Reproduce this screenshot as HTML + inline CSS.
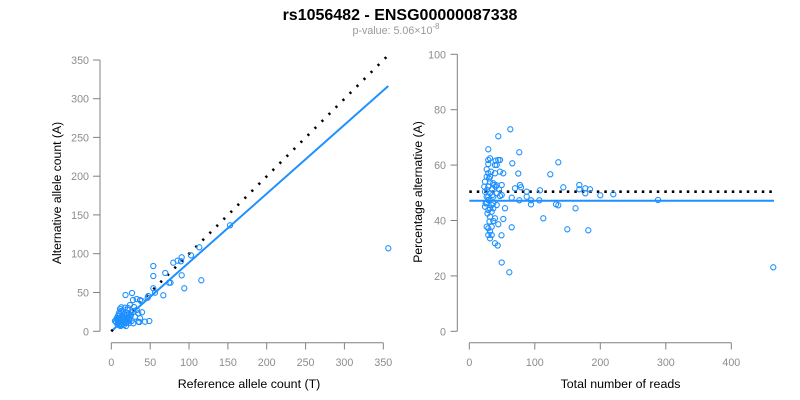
<!DOCTYPE html>
<html><head><meta charset="utf-8"><style>
html,body{margin:0;padding:0;background:#fff;}
svg{display:block;}
text{font-family:"Liberation Sans",Arial,sans-serif;}
</style></head><body>
<svg width="800" height="400" viewBox="0 0 800 400" xmlns="http://www.w3.org/2000/svg">
<rect width="800" height="400" fill="#fff"/>
<text x="400" y="20" text-anchor="middle" font-size="16" font-weight="bold" fill="#000">rs1056482 - ENSG00000087338</text>
<text x="396" y="34" text-anchor="middle" font-size="10.7" fill="#999">p-value: 5.06×10<tspan dy="-5" font-size="8">-8</tspan></text>

<!-- LEFT PLOT axes -->
<g stroke="#808080" stroke-width="1" fill="none">
<line x1="100" y1="60" x2="100" y2="331.3"/>
<line x1="93" y1="60" x2="100" y2="60"/>
<line x1="93" y1="98.7" x2="100" y2="98.7"/>
<line x1="93" y1="137.4" x2="100" y2="137.4"/>
<line x1="93" y1="176.2" x2="100" y2="176.2"/>
<line x1="93" y1="214.9" x2="100" y2="214.9"/>
<line x1="93" y1="253.7" x2="100" y2="253.7"/>
<line x1="93" y1="292.5" x2="100" y2="292.5"/>
<line x1="93" y1="331.3" x2="100" y2="331.3"/>
<line x1="111.3" y1="342.7" x2="383.3" y2="342.7"/>
<line x1="111.3" y1="342.7" x2="111.3" y2="349.5"/>
<line x1="150.2" y1="342.7" x2="150.2" y2="349.5"/>
<line x1="189" y1="342.7" x2="189" y2="349.5"/>
<line x1="227.9" y1="342.7" x2="227.9" y2="349.5"/>
<line x1="266.7" y1="342.7" x2="266.7" y2="349.5"/>
<line x1="305.6" y1="342.7" x2="305.6" y2="349.5"/>
<line x1="344.4" y1="342.7" x2="344.4" y2="349.5"/>
<line x1="383.3" y1="342.7" x2="383.3" y2="349.5"/>
</g>
<g font-size="10.7" fill="#8c8c8c" text-anchor="end">
<text x="89" y="64">350</text>
<text x="89" y="102.7">300</text>
<text x="89" y="141.4">250</text>
<text x="89" y="180.2">200</text>
<text x="89" y="218.9">150</text>
<text x="89" y="257.7">100</text>
<text x="89" y="296.5">50</text>
<text x="89" y="335.3">0</text>
</g>
<g font-size="10.7" fill="#8c8c8c" text-anchor="middle">
<text x="111.3" y="366">0</text>
<text x="150.2" y="366">50</text>
<text x="189" y="366">100</text>
<text x="227.9" y="366">150</text>
<text x="266.7" y="366">200</text>
<text x="305.6" y="366">250</text>
<text x="344.4" y="366">300</text>
<text x="383.3" y="366">350</text>
</g>
<text x="249" y="388" text-anchor="middle" font-size="12.4" fill="#000">Reference allele count (T)</text>
<text transform="translate(61,193) rotate(-90)" text-anchor="middle" font-size="12.2" fill="#000">Alternative allele count (A)</text>

<!-- left lines -->
<line x1="111.3" y1="331.3" x2="388.3" y2="86" stroke="#1E90FF" stroke-width="2"/>
<line x1="111.3" y1="331.3" x2="386.7" y2="56.7" stroke="#000" stroke-width="2.6" stroke-dasharray="2.2 7.7"/>

<!-- left points -->
<g fill="none" stroke="#1E90FF" stroke-width="1.1">
<circle cx="230" cy="225.3" r="2.6"/><circle cx="388.3" cy="248.3" r="2.6"/><circle cx="199.3" cy="247.3" r="2.6"/>
<circle cx="191" cy="255.3" r="2.6"/><circle cx="181" cy="261.3" r="2.6"/><circle cx="177.7" cy="260.7" r="2.6"/>
<circle cx="173.3" cy="262.7" r="2.6"/><circle cx="181.7" cy="257.3" r="2.6"/><circle cx="153.3" cy="266" r="2.6"/>
<circle cx="153.3" cy="276" r="2.6"/><circle cx="165.3" cy="273" r="2.6"/><circle cx="181.7" cy="275.3" r="2.6"/>
<circle cx="201.3" cy="280.3" r="2.6"/><circle cx="184.3" cy="288.3" r="2.6"/><circle cx="169" cy="282.7" r="2.6"/>
<circle cx="170.5" cy="282.7" r="2.6"/><circle cx="163.3" cy="295.3" r="2.6"/><circle cx="153.3" cy="288.3" r="2.6"/>
<circle cx="155" cy="292.7" r="2.6"/><circle cx="148.3" cy="296" r="2.6"/><circle cx="125.5" cy="295" r="2.6"/>
<circle cx="132" cy="293" r="2.6"/><circle cx="149.3" cy="321" r="2.6"/><circle cx="139.3" cy="322" r="2.6"/>
<circle cx="142" cy="312.3" r="2.6"/><circle cx="121.3" cy="307.3" r="2.6"/><circle cx="136.7" cy="299" r="2.6"/>
<circle cx="140" cy="300" r="2.6"/><circle cx="141.7" cy="301" r="2.6"/><circle cx="133" cy="300" r="2.6"/>
<circle cx="147.7" cy="297.7" r="2.6"/><circle cx="136.7" cy="310" r="2.6"/><circle cx="138.3" cy="313.3" r="2.6"/>
<circle cx="140" cy="318.3" r="2.6"/><circle cx="138.3" cy="321.7" r="2.6"/><circle cx="135" cy="316.7" r="2.6"/>
<circle cx="131.7" cy="321" r="2.6"/><circle cx="133.3" cy="323.3" r="2.6"/><circle cx="145" cy="321.7" r="2.6"/>
<circle cx="125" cy="307.7" r="2.6"/><circle cx="127.7" cy="310" r="2.6"/><circle cx="123.3" cy="311.7" r="2.6"/>
<circle cx="117" cy="320" r="2.6"/><circle cx="118" cy="323" r="2.6"/><circle cx="119" cy="318" r="2.6"/>
<circle cx="120" cy="321" r="2.6"/><circle cx="121" cy="324" r="2.6"/><circle cx="122" cy="316" r="2.6"/>
<circle cx="123" cy="319" r="2.6"/><circle cx="124" cy="322" r="2.6"/><circle cx="125" cy="318" r="2.6"/>
<circle cx="126" cy="315" r="2.6"/><circle cx="127" cy="320" r="2.6"/><circle cx="128" cy="317" r="2.6"/>
<circle cx="129" cy="314" r="2.6"/><circle cx="130" cy="318" r="2.6"/><circle cx="118" cy="316" r="2.6"/>
<circle cx="120" cy="314" r="2.6"/><circle cx="116" cy="322" r="2.6"/><circle cx="122" cy="325" r="2.6"/>
<circle cx="124" cy="325" r="2.6"/><circle cx="126" cy="323" r="2.6"/><circle cx="119" cy="313" r="2.6"/>
<circle cx="121" cy="311" r="2.6"/><circle cx="127" cy="313" r="2.6"/><circle cx="131" cy="315" r="2.6"/>
<circle cx="133" cy="312" r="2.6"/><circle cx="129" cy="323" r="2.6"/><circle cx="117" cy="318" r="2.6"/>
<circle cx="115" cy="321" r="2.6"/><circle cx="124" cy="314" r="2.6"/><circle cx="128" cy="308" r="2.6"/>
<circle cx="130" cy="305" r="2.6"/><circle cx="134" cy="307" r="2.6"/><circle cx="120" cy="309" r="2.6"/>
<circle cx="119" cy="325" r="2.6"/><circle cx="123" cy="322" r="2.6"/><circle cx="126" cy="326" r="2.6"/>
<circle cx="116.5" cy="319" r="2.6"/><circle cx="118.5" cy="321" r="2.6"/><circle cx="120.5" cy="319" r="2.6"/>
<circle cx="122.5" cy="321" r="2.6"/><circle cx="121.5" cy="318" r="2.6"/><circle cx="123.5" cy="317" r="2.6"/>
<circle cx="125.5" cy="320" r="2.6"/><circle cx="124.5" cy="323" r="2.6"/><circle cx="127.5" cy="322" r="2.6"/>
<circle cx="119.5" cy="322.5" r="2.6"/><circle cx="117.5" cy="324.5" r="2.6"/><circle cx="120.5" cy="326" r="2.6"/>
<circle cx="128.5" cy="319.5" r="2.6"/><circle cx="126.5" cy="317.5" r="2.6"/><circle cx="130.5" cy="316" r="2.6"/>
</g>

<!-- RIGHT PLOT axes -->
<g stroke="#808080" stroke-width="1" fill="none">
<line x1="457.3" y1="54.3" x2="457.3" y2="331.3"/>
<line x1="450.5" y1="54.3" x2="457.3" y2="54.3"/>
<line x1="450.5" y1="109.7" x2="457.3" y2="109.7"/>
<line x1="450.5" y1="165.1" x2="457.3" y2="165.1"/>
<line x1="450.5" y1="220.5" x2="457.3" y2="220.5"/>
<line x1="450.5" y1="275.9" x2="457.3" y2="275.9"/>
<line x1="450.5" y1="331.3" x2="457.3" y2="331.3"/>
<line x1="469.3" y1="342.7" x2="731.3" y2="342.7"/>
<line x1="469.3" y1="342.7" x2="469.3" y2="349.5"/>
<line x1="534.8" y1="342.7" x2="534.8" y2="349.5"/>
<line x1="600.3" y1="342.7" x2="600.3" y2="349.5"/>
<line x1="665.8" y1="342.7" x2="665.8" y2="349.5"/>
<line x1="731.3" y1="342.7" x2="731.3" y2="349.5"/>
</g>
<g font-size="10.7" fill="#8c8c8c" text-anchor="end">
<text x="446" y="58.3">100</text>
<text x="446" y="113.7">80</text>
<text x="446" y="169.1">60</text>
<text x="446" y="224.5">40</text>
<text x="446" y="279.9">20</text>
<text x="446" y="335.3">0</text>
</g>
<g font-size="10.7" fill="#8c8c8c" text-anchor="middle">
<text x="469.3" y="366">0</text>
<text x="534.8" y="366">100</text>
<text x="600.3" y="366">200</text>
<text x="665.8" y="366">300</text>
<text x="731.3" y="366">400</text>
</g>
<text x="620.5" y="388" text-anchor="middle" font-size="12.4" fill="#000">Total number of reads</text>
<text transform="translate(422,192) rotate(-90)" text-anchor="middle" font-size="12.2" fill="#000">Percentage alternative (A)</text>

<!-- right lines -->
<line x1="469.3" y1="200.7" x2="774" y2="200.7" stroke="#1E90FF" stroke-width="2"/>
<line x1="469.3" y1="191.7" x2="774" y2="191.7" stroke="#000" stroke-width="2.6" stroke-dasharray="2.5 5"/>

<!-- right points -->
<g fill="none" stroke="#1E90FF" stroke-width="1.1">
<circle cx="510.3" cy="129.3" r="2.6"/><circle cx="498.3" cy="136.3" r="2.6"/><circle cx="488.3" cy="149.3" r="2.6"/>
<circle cx="519.3" cy="152.3" r="2.6"/><circle cx="558.3" cy="162.3" r="2.6"/><circle cx="512.3" cy="163.3" r="2.6"/>
<circle cx="490" cy="158.3" r="2.6"/><circle cx="488.3" cy="160" r="2.6"/><circle cx="488.3" cy="164" r="2.6"/>
<circle cx="495.7" cy="160.7" r="2.6"/><circle cx="498.3" cy="160" r="2.6"/><circle cx="496.7" cy="165" r="2.6"/>
<circle cx="500" cy="160" r="2.6"/><circle cx="495" cy="165" r="2.6"/><circle cx="486.7" cy="169.3" r="2.6"/>
<circle cx="491" cy="171.7" r="2.6"/><circle cx="495" cy="173.3" r="2.6"/><circle cx="500" cy="171.7" r="2.6"/>
<circle cx="503.3" cy="173.3" r="2.6"/><circle cx="488.3" cy="173.3" r="2.6"/><circle cx="490" cy="176.7" r="2.6"/>
<circle cx="486.7" cy="176.7" r="2.6"/><circle cx="518.3" cy="173.5" r="2.6"/><circle cx="550.3" cy="174.3" r="2.6"/>
<circle cx="485" cy="181.7" r="2.6"/><circle cx="490" cy="181.7" r="2.6"/><circle cx="493.3" cy="183.3" r="2.6"/>
<circle cx="488.3" cy="186.7" r="2.6"/><circle cx="484.3" cy="186.7" r="2.6"/><circle cx="495.7" cy="186.7" r="2.6"/>
<circle cx="501.7" cy="185" r="2.6"/><circle cx="499" cy="189.3" r="2.6"/><circle cx="494.3" cy="185" r="2.6"/>
<circle cx="496.7" cy="185.3" r="2.6"/><circle cx="520" cy="185" r="2.6"/><circle cx="521" cy="187.3" r="2.6"/>
<circle cx="515" cy="188.3" r="2.6"/><circle cx="563.3" cy="187.3" r="2.6"/><circle cx="579.3" cy="185" r="2.6"/>
<circle cx="579.3" cy="189.3" r="2.6"/><circle cx="585.3" cy="188.3" r="2.6"/><circle cx="590" cy="189.3" r="2.6"/>
<circle cx="585.3" cy="193.3" r="2.6"/><circle cx="540" cy="190.3" r="2.6"/><circle cx="526.7" cy="191.7" r="2.6"/>
<circle cx="526.7" cy="196.7" r="2.6"/><circle cx="600.3" cy="195.3" r="2.6"/><circle cx="613.3" cy="194.3" r="2.6"/>
<circle cx="658" cy="200" r="2.6"/><circle cx="485" cy="191.7" r="2.6"/><circle cx="490" cy="193.3" r="2.6"/>
<circle cx="492.3" cy="195" r="2.6"/><circle cx="486.7" cy="196.7" r="2.6"/><circle cx="496.7" cy="193.3" r="2.6"/>
<circle cx="501.7" cy="195" r="2.6"/><circle cx="488.3" cy="200" r="2.6"/><circle cx="485.7" cy="203.3" r="2.6"/>
<circle cx="491.7" cy="205" r="2.6"/><circle cx="485" cy="206.7" r="2.6"/><circle cx="490" cy="208.3" r="2.6"/>
<circle cx="505" cy="208.3" r="2.6"/><circle cx="488.3" cy="196.7" r="2.6"/><circle cx="493.3" cy="196.7" r="2.6"/>
<circle cx="500" cy="196" r="2.6"/><circle cx="511.7" cy="197.7" r="2.6"/><circle cx="519.3" cy="200.3" r="2.6"/>
<circle cx="531" cy="200.3" r="2.6"/><circle cx="531" cy="204.3" r="2.6"/><circle cx="539.3" cy="200.3" r="2.6"/>
<circle cx="556" cy="204.3" r="2.6"/><circle cx="558.3" cy="205.3" r="2.6"/><circle cx="575.5" cy="208.3" r="2.6"/>
<circle cx="486.7" cy="203.3" r="2.6"/><circle cx="493.3" cy="203.3" r="2.6"/><circle cx="496.7" cy="205" r="2.6"/>
<circle cx="488.3" cy="210" r="2.6"/><circle cx="491.7" cy="211.7" r="2.6"/><circle cx="493.3" cy="208.3" r="2.6"/>
<circle cx="490" cy="216.7" r="2.6"/><circle cx="495" cy="218.3" r="2.6"/><circle cx="503.3" cy="219" r="2.6"/>
<circle cx="498.3" cy="224.3" r="2.6"/><circle cx="493.3" cy="221" r="2.6"/><circle cx="486.7" cy="226.7" r="2.6"/>
<circle cx="491.7" cy="226.7" r="2.6"/><circle cx="488.3" cy="228.3" r="2.6"/><circle cx="511.7" cy="227.3" r="2.6"/>
<circle cx="490" cy="231.7" r="2.6"/><circle cx="488.3" cy="235" r="2.6"/><circle cx="491.7" cy="235" r="2.6"/>
<circle cx="490" cy="238.3" r="2.6"/><circle cx="501.5" cy="235.3" r="2.6"/><circle cx="495" cy="243.3" r="2.6"/>
<circle cx="497.7" cy="245.5" r="2.6"/><circle cx="543.3" cy="218.3" r="2.6"/><circle cx="567.3" cy="229.3" r="2.6"/>
<circle cx="588.3" cy="230.3" r="2.6"/><circle cx="501.7" cy="262.5" r="2.6"/><circle cx="509.3" cy="272.3" r="2.6"/>
<circle cx="773.3" cy="267.3" r="2.6"/>
<circle cx="487.5" cy="213.5" r="2.6"/><circle cx="489.5" cy="221.5" r="2.6"/><circle cx="487" cy="190" r="2.6"/>
<circle cx="492" cy="189" r="2.6"/><circle cx="489" cy="178.5" r="2.6"/>
</g>
</svg>
</body></html>
